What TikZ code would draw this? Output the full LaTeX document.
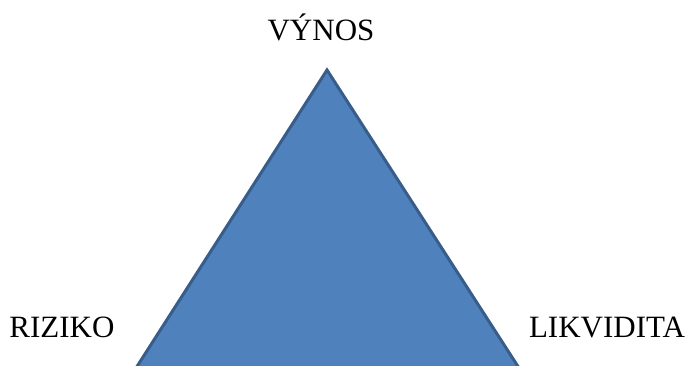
\documentclass[tikz,border=0pt]{standalone}
\usepackage{fontspec}
\setmainfont{Liberation Serif}
\usepackage{tikz}
\usetikzlibrary{positioning}
\definecolor{triFill}{HTML}{4F81BD}
\definecolor{triLine}{HTML}{385D8A}

\begin{document}
\begin{tikzpicture}[x=1pt,y=-1pt,
    label/.style={font=\fontsize{31}{37}\selectfont, inner sep=0pt, anchor=base}]
    % Frame of the picture
    \useasboundingbox (0,0) rectangle (699,365);
    \clip (0,0) rectangle (699,365);

    % Corners of the triangle
    \coordinate (top) at (327,70);
    \coordinate (left) at (136,368);
    \coordinate (right) at (519,368);

    % Triangle
    \filldraw[fill=triFill, draw=triLine, line width=3pt, line join=miter]
        (top) -- (right) -- (left) -- cycle;

    % Labels
    \node[label] (vynos) at (321,40) {VÝNOS};
    \node[label] (riziko) at (62,337) {RIZIKO};
    \node[label] (likvidita) at (607,337) {LIKVIDITA};
\end{tikzpicture}
\end{document}
